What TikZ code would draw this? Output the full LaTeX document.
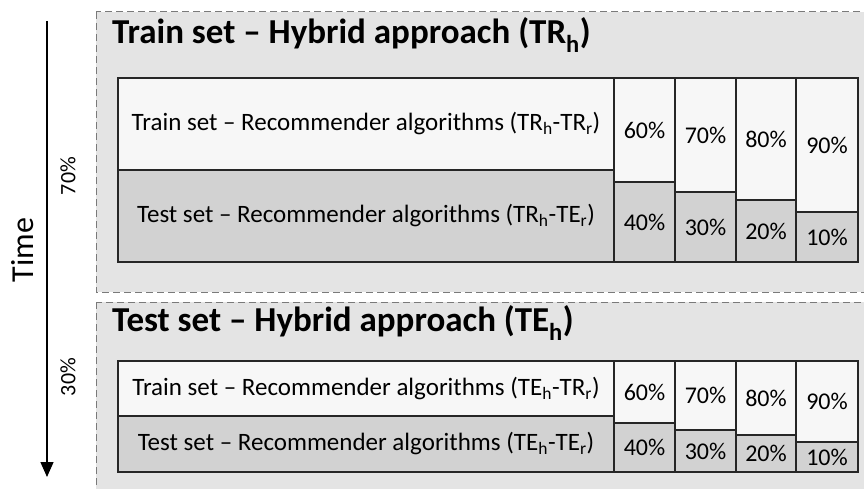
\documentclass[tikz,border=0pt]{standalone}
\usepackage{fontspec}
\setmainfont{Carlito}
\usetikzlibrary{arrows.meta}
\definecolor{panelgray}{HTML}{E4E4E4}
\definecolor{lightcell}{HTML}{F7F7F7}
\definecolor{darkcell}{HTML}{D2D2D2}
\definecolor{dashgray}{HTML}{7A7A7A}
\newcommand{\subs}[1]{\textsubscript{#1}}
\begin{document}
\begin{tikzpicture}[x=1pt,y=-1pt,
  panelbox/.style={fill=panelgray, draw=dashgray, dash pattern=on 7pt off 4pt, line width=1pt},
  cellbase/.style={draw=black!85, line width=1.3pt, inner sep=0pt, outer sep=0pt, align=center},
  rowtext/.style={font=\fontsize{25}{30}\selectfont},
  pcttext/.style={font=\fontsize{24}{28}\selectfont},
  lightbox/.style={cellbase, fill=lightcell},
  darkbox/.style={cellbase, fill=darkcell},
  titletext/.style={anchor=west, inner sep=0pt, font=\fontsize{35}{42}\selectfont\bfseries},
  sidetext/.style={rotate=90, inner sep=0pt, font=\fontsize{22}{26}\selectfont},
  timetext/.style={rotate=90, inner sep=0pt, font=\fontsize{32}{38}\selectfont},
  timearrow/.style={line width=1.3pt, -{Triangle[width=13pt,length=15pt]}}
]
\useasboundingbox (0,0) rectangle (864,489);
\clip (0,0) rectangle (864,489);
\fill[white] (0,0) rectangle (864,489);

% panels
\path[panelbox] (96,12) rectangle (880,292);
\path[panelbox] (96,302) rectangle (880,500);

% titles
\node[titletext] (t1) at (112,35) {Train set – Hybrid approach (TR\subs{h})};
\node[titletext] (t2) at (112,323) {Test set – Hybrid approach (TE\subs{h})};

% top table
\node[lightbox, rowtext, minimum width=496pt, minimum height=92pt] (a1) at (366,124) {Train set – Recommender algorithms (TR\subs{h}-TR\subs{r})};
\node[darkbox, rowtext, minimum width=496pt, minimum height=92pt] (a2) at (366,216) {Test set – Recommender algorithms (TR\subs{h}-TE\subs{r})};
\node[lightbox, pcttext, minimum width=61pt, minimum height=104pt] (a3) at (644.5,130) {60\%};
\node[darkbox, pcttext, minimum width=61pt, minimum height=80pt] (a4) at (644.5,222) {40\%};
\node[lightbox, pcttext, minimum width=61pt, minimum height=114pt] (a5) at (705.5,135) {70\%};
\node[darkbox, pcttext, minimum width=61pt, minimum height=70pt] (a6) at (705.5,227) {30\%};
\node[lightbox, pcttext, minimum width=60pt, minimum height=122pt] (a7) at (766,139) {80\%};
\node[darkbox, pcttext, minimum width=60pt, minimum height=62pt] (a8) at (766,231) {20\%};
\node[lightbox, pcttext, minimum width=62pt, minimum height=134pt] (a9) at (827,145) {90\%};
\node[darkbox, pcttext, minimum width=62pt, minimum height=50pt] (a10) at (827,237) {10\%};

% bottom table
\node[lightbox, rowtext, minimum width=496pt, minimum height=55pt] (b1) at (366,388.5) {Train set – Recommender algorithms (TE\subs{h}-TR\subs{r})};
\node[darkbox, rowtext, minimum width=496pt, minimum height=56pt] (b2) at (366,444) {Test set – Recommender algorithms (TE\subs{h}-TE\subs{r})};
\node[lightbox, pcttext, minimum width=61pt, minimum height=62pt] (b3) at (644.5,392) {60\%};
\node[darkbox, pcttext, minimum width=61pt, minimum height=49pt] (b4) at (644.5,447.5) {40\%};
\node[lightbox, pcttext, minimum width=61pt, minimum height=69pt] (b5) at (705.5,395.5) {70\%};
\node[darkbox, pcttext, minimum width=61pt, minimum height=42pt] (b6) at (705.5,451) {30\%};
\node[lightbox, pcttext, minimum width=60pt, minimum height=74pt] (b7) at (766,398) {80\%};
\node[darkbox, pcttext, minimum width=60pt, minimum height=37pt] (b8) at (766,453.5) {20\%};
\node[lightbox, pcttext, minimum width=62pt, minimum height=81pt] (b9) at (827,401.5) {90\%};
\node[darkbox, pcttext, minimum width=62pt, minimum height=30pt] (b10) at (827,457) {10\%};

% time axis
\coordinate (ts) at (47,21);
\coordinate (te) at (47,477);
\draw[timearrow] (ts) -- (te);
\node[timetext] (time) at (23,250) {Time};
\node[sidetext] (p70) at (68,176) {70\%};
\node[sidetext] (p30) at (68,377) {30\%};
\end{tikzpicture}
\end{document}
